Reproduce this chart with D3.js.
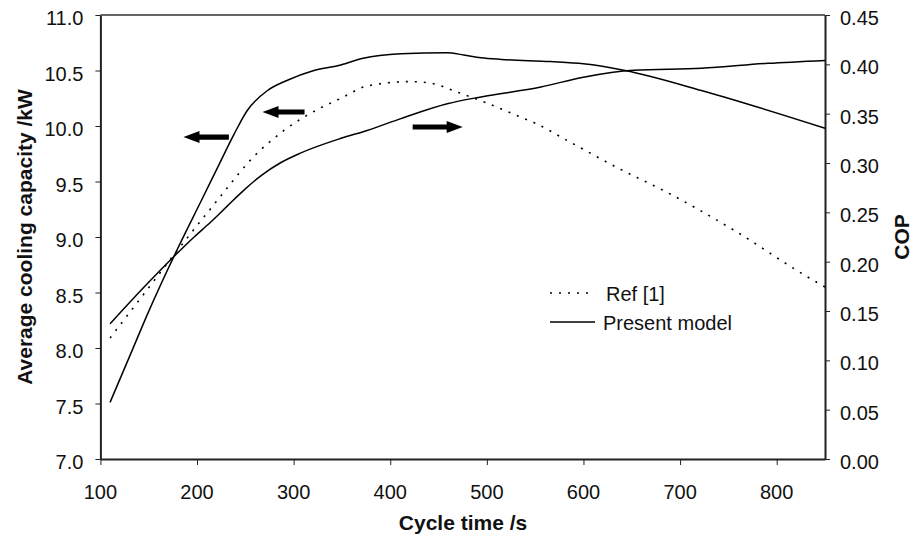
<!DOCTYPE html>
<html>
<head>
<meta charset="utf-8">
<script src="https://cdn.jsdelivr.net/npm/d3@7"></script>
<style>
  html, body { margin: 0; padding: 0; background: #fff; overflow: hidden; }
  svg { display: block; }
  text { font-family: "Liberation Sans", Arial, sans-serif; }
</style>
</head>
<body>
<svg id="plot" width="913" height="536"></svg>
<script>
// cycle time (s) and average cooling capacity (kW), present model
const capModelTime = [110, 130, 150, 178, 204, 221, 238, 252, 273, 293, 321, 349, 372, 411, 459, 476, 494, 515, 566, 600, 643, 722, 850];
const capModelValue = [7.51, 7.92, 8.33, 8.86, 9.32, 9.62, 9.92, 10.14, 10.32, 10.41, 10.50, 10.55, 10.61, 10.65, 10.66, 10.64, 10.615, 10.60, 10.58, 10.56, 10.50, 10.32, 9.98];

// cooling capacity, Ref [1]
const capRefTime = [110, 140, 178, 197, 221, 231, 255, 290, 325, 349, 376, 421, 445, 468, 496, 535, 549, 583, 636, 687, 756, 832, 850];
const capRefValue = [8.09, 8.43, 8.86, 9.07, 9.33, 9.44, 9.69, 9.96, 10.15, 10.25, 10.36, 10.40, 10.38, 10.31, 10.22, 10.08, 10.03, 9.87, 9.62, 9.40, 9.06, 8.64, 8.55];

// COP, present model (right axis)
const copTime = [110, 145, 179, 197, 214, 231, 248, 266, 286, 307, 349, 376, 411, 459, 494, 556, 600, 652, 722, 791, 850];
const copValue = [0.137, 0.174, 0.208, 0.225, 0.240, 0.256, 0.272, 0.287, 0.300, 0.310, 0.325, 0.333, 0.345, 0.360, 0.367, 0.377, 0.387, 0.394, 0.396, 0.401, 0.404];

// tick values
const xTicks = [100, 200, 300, 400, 500, 600, 700, 800];
const yLeftTicks = [7.0, 7.5, 8.0, 8.5, 9.0, 9.5, 10.0, 10.5, 11.0];
const yRightTicks = [0, 0.05, 0.1, 0.15, 0.2, 0.25, 0.3, 0.35, 0.4, 0.45];

// arrows pointing to the axis each curve belongs to
const arrows = [
  { from: 233, to: 186, value: 9.90, axis: "left" },
  { from: 311.3, to: 267.8, value: 10.126, axis: "left" },
  { from: 423.2, to: 475, value: 0.3365, axis: "right" }
];

const legendItems = [
  { text: "Ref [1]", dash: "2,7" },
  { text: "Present model", dash: null }
];

const width = 913;
const height = 536;
const margin = { top: 15, right: 88, bottom: 77, left: 100.4 };

const svg = d3.select("#plot");

// scales work in page pixels so labels can sit at absolute positions
const xScale = d3.scaleLinear().domain([100, 850]).range([margin.left, width - margin.right]);
const yLeft = d3.scaleLinear().domain([7, 11]).range([height - margin.bottom, margin.top]);
const yRight = d3.scaleLinear().domain([0, 0.45]).range([height - margin.bottom, margin.top]);

const bottomY = height - margin.bottom;
const rightX = width - margin.right;

// top border
svg.append("line")
  .attr("x1", margin.left).attr("x2", rightX)
  .attr("y1", margin.top).attr("y2", margin.top)
  .attr("stroke", "#333")
  .attr("stroke-width", 1.5);

// axes (lines and ticks from d3, labels added below)
const xAxis = svg.append("g")
  .attr("transform", `translate(0, ${bottomY})`)
  .call(d3.axisBottom(xScale).tickValues(xTicks).tickSizeInner(6).tickSizeOuter(0).tickFormat(""));

const leftAxis = svg.append("g")
  .attr("transform", `translate(${margin.left}, 0)`)
  .call(d3.axisLeft(yLeft).tickValues(yLeftTicks).tickSizeInner(5).tickSizeOuter(0).tickFormat(""));

const rightAxis = svg.append("g")
  .attr("transform", `translate(${rightX}, 0)`)
  .call(d3.axisRight(yRight).tickValues(yRightTicks).tickSizeInner(5).tickSizeOuter(0).tickFormat(""));

[xAxis, leftAxis, rightAxis].forEach(ax => {
  ax.select(".domain").attr("stroke", "#222").attr("stroke-width", 2);
  ax.selectAll(".tick line").attr("stroke", "#222").attr("stroke-width", 1);
  ax.selectAll(".tick text").remove();
});

// tick labels
svg.append("g").selectAll("text")
  .data(xTicks)
  .enter().append("text")
  .attr("x", d => xScale(d))
  .attr("y", 499)
  .attr("text-anchor", "middle")
  .attr("font-size", 20)
  .attr("fill", "#111")
  .text(d => d);

svg.append("g").selectAll("text")
  .data(yLeftTicks)
  .enter().append("text")
  .attr("x", margin.left - 17)
  .attr("y", d => yLeft(d) + 10)
  .attr("text-anchor", "end")
  .attr("font-size", 20)
  .attr("fill", "#111")
  .text(d3.format(".1f"));

svg.append("g").selectAll("text")
  .data(yRightTicks)
  .enter().append("text")
  .attr("x", rightX + 15)
  .attr("y", d => yRight(d) + 10)
  .attr("font-size", 20)
  .attr("fill", "#111")
  .text(d3.format(".2f"));

// curves
const capLine = d3.line()
  .x(d => xScale(d[0]))
  .y(d => yLeft(d[1]))
  .curve(d3.curveMonotoneX);

const copLine = d3.line()
  .x(d => xScale(d[0]))
  .y(d => yRight(d[1]))
  .curve(d3.curveMonotoneX);

svg.append("path")
  .datum(d3.zip(capRefTime, capRefValue))
  .attr("fill", "none")
  .attr("stroke", "#000")
  .attr("stroke-width", 1.6)
  .attr("stroke-dasharray", "2,7")
  .attr("d", capLine);

svg.append("path")
  .datum(d3.zip(capModelTime, capModelValue))
  .attr("fill", "none")
  .attr("stroke", "#000")
  .attr("stroke-width", 1.5)
  .attr("d", capLine);

svg.append("path")
  .datum(d3.zip(copTime, copValue))
  .attr("fill", "none")
  .attr("stroke", "#000")
  .attr("stroke-width", 1.5)
  .attr("d", copLine);

// arrows
const headLen = 16;
const headHalf = 6;
const shaftHalf = 2.6;
svg.selectAll(".arrow")
  .data(arrows)
  .enter().append("path")
  .attr("class", "arrow")
  .attr("fill", "#000")
  .attr("d", d => {
    const y = d.axis === "left" ? yLeft(d.value) : yRight(d.value);
    const x0 = xScale(d.from);
    const x1 = xScale(d.to);
    const dir = x1 > x0 ? 1 : -1;
    const xb = x1 - dir * headLen;
    return `M${x0},${y - shaftHalf}L${xb},${y - shaftHalf}L${xb},${y - headHalf}L${x1},${y}` +
      `L${xb},${y + headHalf}L${xb},${y + shaftHalf}L${x0},${y + shaftHalf}Z`;
  });

// legend
const legendX = 550;
const legendY = 293;
const rowGap = 29;

svg.selectAll(".legend-line")
  .data(legendItems)
  .enter().append("line")
  .attr("class", "legend-line")
  .attr("x1", legendX).attr("x2", legendX + 45)
  .attr("y1", (d, i) => legendY + i * rowGap)
  .attr("y2", (d, i) => legendY + i * rowGap)
  .attr("stroke", "#000")
  .attr("stroke-width", 1.6)
  .attr("stroke-dasharray", d => d.dash);

svg.selectAll(".legend-text")
  .data(legendItems)
  .enter().append("text")
  .attr("class", "legend-text")
  .attr("x", (d, i) => legendX + (i === 0 ? 56 : 53))
  .attr("y", (d, i) => legendY + i * rowGap + 8)
  .attr("font-size", 20)
  .attr("fill", "#111")
  .text(d => d.text);

// axis titles
svg.append("text")
  .attr("x", 463)
  .attr("y", 530)
  .attr("text-anchor", "middle")
  .attr("font-size", 21)
  .attr("font-weight", "bold")
  .attr("fill", "#111")
  .text("Cycle time /s");

svg.append("text")
  .attr("transform", "translate(32, 237) rotate(-90)")
  .attr("text-anchor", "middle")
  .attr("font-size", 21)
  .attr("font-weight", "bold")
  .attr("fill", "#111")
  .text("Average cooling capacity /kW");

svg.append("text")
  .attr("transform", "translate(909, 237) rotate(-90)")
  .attr("text-anchor", "middle")
  .attr("font-size", 21)
  .attr("font-weight", "bold")
  .attr("fill", "#111")
  .text("COP");
</script>
</body>
</html>
